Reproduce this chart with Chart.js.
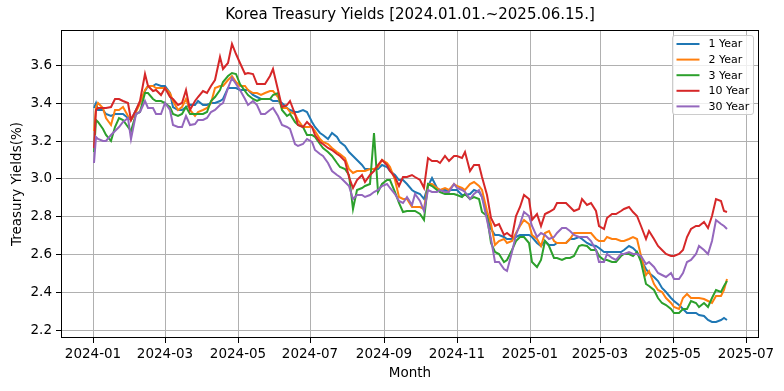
<!DOCTYPE html>
<html>
<head>
<meta charset="utf-8">
<title>Korea Treasury Yields</title>
<script src="https://cdn.jsdelivr.net/npm/chart.js@4.4.1/dist/chart.umd.min.js"></script>
<style>
    html, body { margin: 0; padding: 0; background: #fff; }
    canvas { display: block; }
</style>
</head>
<body>
<canvas id="grafico" width="784" height="391"></canvas>
<script>
// fechas de lectura (martes y viernes aprox.)
const fechas = [
    '2024-01-02', '2024-01-03', '2024-01-05', '2024-01-09', '2024-01-12', '2024-01-16', '2024-01-19', '2024-01-23', '2024-01-26', '2024-01-30',
    '2024-02-02', '2024-02-06', '2024-02-09', '2024-02-13', '2024-02-16', '2024-02-20', '2024-02-23', '2024-02-27', '2024-03-01', '2024-03-05',
    '2024-03-08', '2024-03-12', '2024-03-15', '2024-03-19', '2024-03-22', '2024-03-26', '2024-03-29', '2024-04-02', '2024-04-05', '2024-04-09',
    '2024-04-12', '2024-04-16', '2024-04-19', '2024-04-23', '2024-04-26', '2024-04-30', '2024-05-03', '2024-05-07', '2024-05-10', '2024-05-14',
    '2024-05-17', '2024-05-21', '2024-05-24', '2024-05-28', '2024-05-31', '2024-06-04', '2024-06-07', '2024-06-11', '2024-06-14', '2024-06-18',
    '2024-06-21', '2024-06-25', '2024-06-28', '2024-07-02', '2024-07-05', '2024-07-09', '2024-07-12', '2024-07-16', '2024-07-19', '2024-07-23',
    '2024-07-26', '2024-07-30', '2024-08-02', '2024-08-06', '2024-08-09', '2024-08-13', '2024-08-16', '2024-08-20', '2024-08-23', '2024-08-27',
    '2024-08-30', '2024-09-03', '2024-09-06', '2024-09-10',
    '2024-09-13', '2024-09-17', '2024-09-20', '2024-09-24', '2024-09-27', '2024-10-01', '2024-10-04', '2024-10-08', '2024-10-11', '2024-10-15',
    '2024-10-18', '2024-10-22', '2024-10-25', '2024-10-29', '2024-11-01', '2024-11-05', '2024-11-08', '2024-11-12', '2024-11-15', '2024-11-19',
    '2024-11-22', '2024-11-26', '2024-11-29', '2024-12-03', '2024-12-06', '2024-12-10', '2024-12-13', '2024-12-17', '2024-12-20', '2024-12-24',
    '2024-12-27', '2024-12-31', '2025-01-03', '2025-01-07', '2025-01-10', '2025-01-14', '2025-01-17', '2025-01-21', '2025-01-24', '2025-01-28',
    '2025-01-31', '2025-02-04', '2025-02-07', '2025-02-11', '2025-02-14', '2025-02-18', '2025-02-21', '2025-02-25', '2025-02-28', '2025-03-04',
    '2025-03-07', '2025-03-11', '2025-03-14', '2025-03-18', '2025-03-21', '2025-03-25', '2025-03-28', '2025-04-01', '2025-04-04', '2025-04-08',
    '2025-04-11', '2025-04-15', '2025-04-18', '2025-04-22', '2025-04-25', '2025-04-29', '2025-05-02', '2025-05-06', '2025-05-09', '2025-05-13',
    '2025-05-16', '2025-05-20', '2025-05-23', '2025-05-27', '2025-05-30', '2025-06-03', '2025-06-06', '2025-06-10', '2025-06-13', '2025-06-15'
];

const anio1 = [
    3.37, 3.40, 3.36, 3.36, 3.34, 3.33, 3.34, 3.34, 3.34, 3.32,
    3.31, 3.36, 3.40, 3.46, 3.49, 3.49, 3.50, 3.49, 3.49, 3.45,
    3.38, 3.36, 3.36, 3.38, 3.39, 3.39, 3.41, 3.39, 3.39, 3.40,
    3.40, 3.41, 3.42, 3.48, 3.48, 3.48, 3.47, 3.47, 3.47, 3.44,
    3.43, 3.42, 3.42, 3.42, 3.41, 3.41, 3.40, 3.37, 3.36, 3.35,
    3.35, 3.36, 3.35, 3.30, 3.27, 3.24, 3.23, 3.21, 3.24, 3.22,
    3.19, 3.17, 3.14, 3.12, 3.10, 3.07, 3.05, 3.05, 3.05, 3.05,
    3.07, 3.06, 3.04, 3.02,
    2.99, 2.99, 2.97, 2.94, 2.93, 2.92, 2.89, 2.96, 3.00, 2.95,
    2.94, 2.94, 2.94, 2.94, 2.94, 2.91, 2.91, 2.92, 2.94, 2.93,
    2.90, 2.81, 2.73, 2.70, 2.70, 2.69, 2.68, 2.68, 2.69, 2.70,
    2.70, 2.70, 2.69, 2.66, 2.64, 2.67, 2.65, 2.65, 2.66, 2.66,
    2.66, 2.68, 2.68, 2.69, 2.68, 2.66, 2.65, 2.64, 2.63, 2.61,
    2.61, 2.61, 2.61, 2.61, 2.62, 2.64, 2.63, 2.61, 2.57, 2.52,
    2.50, 2.48, 2.46, 2.42, 2.40, 2.37, 2.35, 2.33, 2.31, 2.29,
    2.29, 2.29, 2.28, 2.27, 2.25, 2.24, 2.24, 2.25, 2.26, 2.25
];
const anio2 = [
    3.25, 3.38, 3.40, 3.37, 3.32, 3.28, 3.36, 3.36, 3.38, 3.33,
    3.31, 3.35, 3.40, 3.47, 3.49, 3.49, 3.48, 3.48, 3.48, 3.45,
    3.41, 3.36, 3.38, 3.42, 3.36, 3.33, 3.35, 3.36, 3.37, 3.40,
    3.48, 3.49, 3.49, 3.52, 3.54, 3.51, 3.49, 3.49, 3.47, 3.45,
    3.45, 3.44, 3.45, 3.46, 3.46, 3.43, 3.37, 3.37, 3.35, 3.34,
    3.31, 3.27, 3.27, 3.27, 3.25, 3.21, 3.19, 3.18, 3.16, 3.14,
    3.13, 3.11, 3.05, 3.03, 3.04, 3.04, 3.04, 3.05, 3.05, 3.06,
    3.10, 3.08, 3.06, 2.99,
    2.90, 2.89, 2.89, 2.85, 2.85, 2.85, 2.84, 2.97, 2.97, 2.95,
    2.94, 2.95, 2.94, 2.97, 2.96, 2.95, 2.94, 2.97, 2.98, 2.96,
    2.94, 2.83, 2.76, 2.65, 2.67, 2.68, 2.66, 2.67, 2.71, 2.75,
    2.78, 2.76, 2.70, 2.68, 2.64, 2.71, 2.72, 2.67, 2.66, 2.66,
    2.66, 2.68, 2.71, 2.71, 2.71, 2.71, 2.71, 2.68, 2.67, 2.67,
    2.69, 2.68, 2.68, 2.67, 2.67, 2.68, 2.69, 2.68, 2.59, 2.49,
    2.51, 2.44, 2.41, 2.40, 2.37, 2.34, 2.32, 2.31, 2.37, 2.39,
    2.37, 2.37, 2.37, 2.36, 2.35, 2.34, 2.38, 2.38, 2.41, 2.47
];
const anio3 = [
    3.14, 3.31, 3.30, 3.26, 3.23, 3.20, 3.27, 3.32, 3.31, 3.27,
    3.25, 3.34, 3.35, 3.45, 3.45, 3.42, 3.41, 3.41, 3.40, 3.38,
    3.34, 3.33, 3.34, 3.38, 3.34, 3.34, 3.34, 3.34, 3.35, 3.41,
    3.43, 3.47, 3.51, 3.54, 3.56, 3.55, 3.50, 3.46, 3.44, 3.42,
    3.41, 3.42, 3.42, 3.42, 3.44, 3.45, 3.36, 3.33, 3.34, 3.30,
    3.28, 3.27, 3.23, 3.23, 3.22, 3.18, 3.16, 3.14, 3.12, 3.08,
    3.06, 3.05, 3.02, 2.84, 2.94, 2.95, 2.96, 2.97, 3.24, 2.93,
    2.97, 2.99, 2.99, 2.93,
    2.87, 2.82, 2.83, 2.83, 2.83, 2.81, 2.78, 2.97, 2.96, 2.94,
    2.93, 2.92, 2.92, 2.92, 2.91, 2.90, 2.92, 2.89, 2.90, 2.89,
    2.82, 2.80, 2.66, 2.61, 2.60, 2.56, 2.57, 2.62, 2.67, 2.69,
    2.69, 2.66, 2.56, 2.53, 2.57, 2.67, 2.64, 2.58, 2.58, 2.57,
    2.58, 2.58, 2.59, 2.64, 2.65, 2.64, 2.62, 2.62, 2.59, 2.57,
    2.57, 2.56, 2.56, 2.59, 2.60, 2.60, 2.59, 2.61, 2.56, 2.44,
    2.43, 2.41, 2.37, 2.34, 2.33, 2.31, 2.29, 2.29, 2.31, 2.31,
    2.35, 2.34, 2.32, 2.34, 2.32, 2.37, 2.41, 2.40, 2.43, 2.46
];
const anio10 = [
    3.16, 3.36, 3.37, 3.37, 3.37, 3.38, 3.42, 3.42, 3.41, 3.40,
    3.31, 3.36, 3.41, 3.55, 3.49, 3.46, 3.47, 3.44, 3.48, 3.43,
    3.42, 3.39, 3.40, 3.47, 3.36, 3.41, 3.43, 3.46, 3.45, 3.49,
    3.52, 3.64, 3.58, 3.61, 3.71, 3.66, 3.61, 3.55, 3.56, 3.55,
    3.50, 3.50, 3.50, 3.54, 3.58, 3.47, 3.38, 3.39, 3.41, 3.34,
    3.28, 3.27, 3.30, 3.27, 3.23, 3.19, 3.18, 3.16, 3.15, 3.13,
    3.12, 3.09, 3.01, 2.95, 2.99, 3.02, 2.98, 3.02, 3.04, 3.07,
    3.10, 3.07, 3.04, 3.01,
    2.96, 3.01, 3.01, 3.02, 3.01, 2.99, 2.95, 3.11, 3.09, 3.09,
    3.08, 3.12, 3.09, 3.12, 3.12, 3.11, 3.14, 3.04, 3.07, 3.07,
    3.01, 2.91, 2.79, 2.75, 2.76, 2.70, 2.71, 2.69, 2.80, 2.85,
    2.91, 2.89, 2.78, 2.81, 2.75, 2.81, 2.82, 2.84, 2.87, 2.87,
    2.87, 2.85, 2.83, 2.84, 2.89, 2.86, 2.87, 2.83, 2.75, 2.73,
    2.79, 2.81, 2.81, 2.83, 2.84, 2.85, 2.82, 2.80, 2.75, 2.68,
    2.72, 2.68, 2.64, 2.62, 2.60, 2.59, 2.59, 2.60, 2.62, 2.69,
    2.73, 2.75, 2.75, 2.77, 2.74, 2.80, 2.89, 2.88, 2.83, 2.82
];
const anio30 = [
    3.08, 3.22, 3.21, 3.20, 3.20, 3.23, 3.25, 3.27, 3.30, 3.32,
    3.21, 3.34, 3.35, 3.41, 3.37, 3.37, 3.34, 3.34, 3.40, 3.36,
    3.28, 3.27, 3.27, 3.33, 3.28, 3.29, 3.31, 3.31, 3.32, 3.35,
    3.36, 3.39, 3.40, 3.48, 3.53, 3.50, 3.47, 3.42, 3.39, 3.41,
    3.39, 3.34, 3.34, 3.36, 3.37, 3.33, 3.28, 3.27, 3.26, 3.18,
    3.17, 3.18, 3.21, 3.19, 3.15, 3.13, 3.12, 3.08, 3.04, 3.02,
    3.01, 2.98, 2.96, 2.89, 2.91, 2.91, 2.90, 2.91, 2.93, 2.94,
    2.96, 2.97, 2.95, 2.92,
    2.88, 2.87, 2.90, 2.86, 2.92, 2.88, 2.83, 2.94, 2.93, 2.93,
    2.94, 2.93, 2.93, 2.97, 2.95, 2.94, 2.93, 2.89, 2.92, 2.94,
    2.90, 2.78, 2.68, 2.56, 2.56, 2.52, 2.51, 2.61, 2.70, 2.76,
    2.82, 2.80, 2.75, 2.69, 2.71, 2.70, 2.68, 2.69, 2.71, 2.74,
    2.74, 2.72, 2.70, 2.69, 2.69, 2.69, 2.67, 2.62, 2.56, 2.56,
    2.60, 2.58, 2.57, 2.60, 2.60, 2.61, 2.60, 2.60, 2.59, 2.55,
    2.56, 2.53, 2.50, 2.49, 2.48, 2.50, 2.47, 2.47, 2.50, 2.56,
    2.57, 2.60, 2.64, 2.62, 2.60, 2.67, 2.78, 2.76, 2.75, 2.73
];

const nombres = ['1 Year', '2 Year', '3 Year', '10 Year', '30 Year'];
const colores = ['#1f77b4', '#ff7f0e', '#2ca02c', '#d62728', '#9467bd'];
const series = [anio1, anio2, anio3, anio10, anio30];

// ticks del eje x (inicio de mes) y del eje y
const ticksMes = ['2024-01-01', '2024-03-01', '2024-05-01', '2024-07-01', '2024-09-01',
    '2024-11-01', '2025-01-01', '2025-03-01', '2025-05-01', '2025-07-01'];
const ticksY = [2.2, 2.4, 2.6, 2.8, 3.0, 3.2, 3.4, 3.6];

const UN_DIA = 86400000;
const origen = Date.parse('2024-01-01');
function aDias(fecha) {
    return (Date.parse(fecha) - origen) / UN_DIA;
}
function aEtiqueta(dias) {
    const d = new Date(origen + dias * UN_DIA);
    return d.getUTCFullYear() + '-' + String(d.getUTCMonth() + 1).padStart(2, '0');
}

const dias = fechas.map(aDias);
series.forEach((s, i) => {
    if (s.length !== fechas.length) console.error('Serie con largo distinto:', nombres[i], s.length, fechas.length);
});

// leyenda dentro del area del grafico, arriba a la derecha
const leyendaInterna = {
    id: 'leyendaInterna',
    afterDraw(chart) {
        const ctx = chart.ctx;
        const area = chart.chartArea;
        const ancho = 81, alto = 79;
        const x0 = Math.round(area.right - 6 - ancho) + 0.5;
        const y0 = Math.round(area.top + 5) + 0.5;
        ctx.save();
        ctx.fillStyle = 'rgba(255,255,255,0.8)';
        ctx.strokeStyle = '#cccccc';
        ctx.lineWidth = 1;
        ctx.beginPath();
        ctx.roundRect(x0, y0, ancho, alto, 2.5);
        ctx.fill();
        ctx.stroke();
        ctx.font = '11px "DejaVu Sans"';
        ctx.textBaseline = 'middle';
        chart.data.datasets.forEach((ds, i) => {
            const y = y0 + 8.5 + i * 15.6;
            ctx.strokeStyle = ds.borderColor;
            ctx.lineWidth = 2;
            ctx.beginPath();
            ctx.moveTo(x0 + 4, y);
            ctx.lineTo(x0 + 27, y);
            ctx.stroke();
            ctx.fillStyle = '#000';
            ctx.fillText(ds.label, x0 + 36, y + 0.5);
        });
        ctx.restore();
    }
};

// marco negro alrededor del area (spines)
const marco = {
    id: 'marco',
    afterDatasetsDraw(chart) {
        const {ctx, chartArea: a} = chart;
        ctx.save();
        ctx.strokeStyle = '#000';
        ctx.lineWidth = 1;
        ctx.strokeRect(Math.round(a.left) + 0.5, Math.round(a.top) + 0.5,
            Math.round(a.right - a.left) - 1, Math.round(a.bottom - a.top) - 1);
        ctx.restore();
    }
};

function dibujarGrafico() {
    Chart.defaults.font.family = '"DejaVu Sans", sans-serif';
    Chart.defaults.color = '#000';

    const ctx = document.getElementById('grafico').getContext('2d');
    new Chart(ctx, {
        type: 'line',
        data: {
            datasets: series.map((valores, i) => ({
                label: nombres[i],
                data: valores.map((v, j) => ({x: dias[j], y: v})),
                borderColor: colores[i],
                backgroundColor: colores[i],
                borderWidth: 2,
                pointRadius: 0,
                tension: 0,
                fill: false,
                order: series.length - i
            }))
        },
        options: {
            responsive: false,
            animation: false,
            devicePixelRatio: 1,
            layout: { padding: { left: 0, right: 25, top: 0, bottom: 0 } },
            plugins: {
                legend: { display: false },
                tooltip: { enabled: false },
                title: {
                    display: true,
                    text: 'Korea Treasury Yields [2024.01.01.~2025.06.15.]',
                    fullSize: false,
                    font: { size: 15, weight: 'normal' },
                    padding: { top: 6, bottom: 6 }
                }
            },
            scales: {
                x: {
                    type: 'linear',
                    min: -27,
                    max: 558,
                    alignToPixels: true,
                    afterBuildTicks: (scale) => {
                        scale.ticks = ticksMes.map(f => ({value: aDias(f)}));
                    },
                    afterFit: (scale) => { scale.height = 53; },
                    ticks: {
                        autoSkip: false,
                        maxRotation: 0,
                        padding: 3,
                        font: { size: 13.5 },
                        callback: (v) => aEtiqueta(v)
                    },
                    grid: { color: '#b0b0b0', lineWidth: 1, tickLength: 5, tickColor: '#000', tickWidth: 1 },
                    border: { display: false },
                    title: { display: true, text: 'Month', font: { size: 13.5 }, padding: { top: 0, bottom: 9 } }
                },
                y: {
                    type: 'linear',
                    min: 2.156,
                    max: 3.785,
                    alignToPixels: true,
                    afterBuildTicks: (scale) => {
                        scale.ticks = ticksY.map(v => ({value: v}));
                    },
                    afterFit: (scale) => { scale.width = 61; },
                    ticks: {
                        padding: 4,
                        font: { size: 13.5 },
                        callback: (v) => v.toFixed(1)
                    },
                    grid: { color: '#b0b0b0', lineWidth: 1, tickLength: 5, tickColor: '#000', tickWidth: 1 },
                    border: { display: false },
                    title: { display: true, text: 'Treasury Yields(%)', font: { size: 13.5 }, padding: { top: 9, bottom: 0 } }
                }
            }
        },
        plugins: [marco, leyendaInterna]
    });
}

dibujarGrafico();
</script>
</body>
</html>
